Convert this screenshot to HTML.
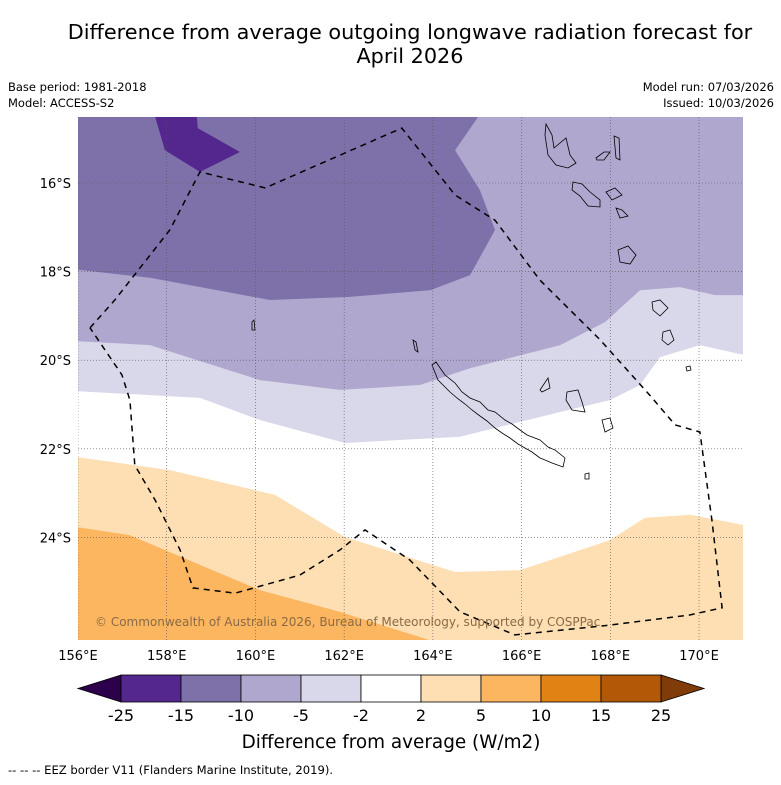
<!DOCTYPE html>
<html><head><meta charset="utf-8"><style>
body{margin:0;background:#fff;width:781px;height:781px;overflow:hidden;font-family:"DejaVu Sans","Liberation Sans",sans-serif}
</style></head><body>
<svg id="svg" width="781" height="781" xmlns="http://www.w3.org/2000/svg" font-family="DejaVu Sans, Liberation Sans, sans-serif">
<text x="410" y="39" text-anchor="middle" font-size="20.8">Difference from average outgoing longwave radiation forecast for</text>
<text x="410" y="63" text-anchor="middle" font-size="20.8">April 2026</text>
<text x="8" y="91" font-size="11.5">Base period: 1981-2018</text>
<text x="8" y="107" font-size="11.5">Model: ACCESS-S2</text>
<text x="774" y="91" font-size="11.5" text-anchor="end">Model run: 07/03/2026</text>
<text x="774" y="107" font-size="11.5" text-anchor="end">Issued: 10/03/2026</text>
<defs><clipPath id="mc"><rect x="78" y="117" width="665" height="523"/></clipPath></defs>
<g id="map" clip-path="url(#mc)"></g>
<g id="axes"></g>
<g id="cbar"></g>
<text x="391" y="748" text-anchor="middle" font-size="18.4">Difference from average (W/m2)</text>
<text x="8" y="774" font-size="11.6">--  --  -- EEZ border V11 (Flanders Marine Institute, 2019).</text>
</svg>
<script>
// axis domain
const lonTicks=[156,158,160,162,164,166,168,170];
const latTicks=[-16,-18,-20,-22,-24];
const cbBounds=[-25,-15,-10,-5,-2,2,5,10,15,25];
const cbColors=['#54278f','#7e71aa','#b0a7cf','#d8d8ea','#ffffff','#fddfb3','#fdb660','#e08214','#b35806'];
const cbLow='#2d004b', cbHigh='#7f3b08';
// contour regions (lon, lat)
const orangeLightLon=[155.5,156,158.07,160.44,162.02,164.5,165.96,167.99,168.78,169.8,171,171.5,171.5,155.5];
const orangeLightLat=[-22.19,-22.19,-22.48,-23.04,-23.99,-24.78,-24.74,-24.06,-23.56,-23.49,-23.72,-23.72,-27,-27];
const orangeLon=[155.5,156,157.17,158.75,160.1,161.9,163.93,164.2,155.5];
const orangeLat=[-23.77,-23.77,-23.95,-24.62,-25.19,-25.68,-26.32,-27,-27];
const lavLon=[155.5,156,158.75,160.1,162.02,164.61,166.87,167.99,168.67,169.12,170.02,171,171.5,171.5,155.5];
const lavLat=[-20.7,-20.7,-20.85,-21.35,-21.87,-21.73,-21.17,-20.9,-20.56,-19.93,-19.66,-19.88,-19.88,-14,-14];
const lpLon=[155.5,156,157.62,160.1,161.9,163.71,164.84,166.87,167.88,168.67,169.57,170.36,171,171.5,171.5,155.5];
const lpLat=[-19.57,-19.57,-19.66,-20.45,-20.67,-20.56,-20.18,-19.66,-19.14,-18.42,-18.35,-18.53,-18.53,-18.53,-14,-14];
const mpLon=[155.5,156,157.62,160.33,162.13,163.94,164.84,165.4,165.06,164.5,165.02,165.2,155.5];
const mpLat=[-17.96,-17.96,-18.14,-18.64,-18.57,-18.42,-18.08,-17.06,-16.16,-15.26,-14.51,-14,-14];
const dpLon=[157.74,157.96,158.75,159.65,158.7,158.68];
const dpLat=[-14.51,-15.26,-15.75,-15.3,-14.76,-14.51];
const eezLon=[156.27,156.83,158.07,158.75,160.22,163.3,164.5,165.4,166.41,167.77,168.89,169.46,170.02,170.29,170.52,169.8,167.99,165.85,164.61,163.48,162.47,161.91,161.0,159.54,158.59,158.3,157.74,157.28,157.17,156.99,156.27];
const eezLat=[-19.27,-18.64,-17.06,-15.75,-16.11,-14.76,-16.27,-16.84,-18.19,-19.54,-20.79,-21.46,-21.62,-23.61,-25.59,-25.75,-25.98,-26.2,-25.68,-24.51,-23.83,-24.28,-24.85,-25.26,-25.14,-24.28,-23.16,-22.37,-20.9,-20.33,-19.27];

const X=lon=>78+(lon-156)*44.36;
const Y=lat=>183+(-16-lat)*44.3;
const NS='http://www.w3.org/2000/svg';
function mk(tag,attrs,parent){const e=document.createElementNS(NS,tag);for(const k in attrs)e.setAttribute(k,attrs[k]);parent.appendChild(e);return e;}
function pts(lo,la){return lo.map((v,i)=>X(v).toFixed(1)+','+Y(la[i]).toFixed(1)).join(' ');}
const map=document.getElementById('map');
let r=mk('rect',{x:78,y:117,width:665,height:523,fill:'#fff'},map);


const layers=[[lpLon,lpLat,'#b0a7cf','contour-10-to-5'],[lavLon,lavLat,'#d8d8ea','contour-5-to-2'],[lpLon,lpLat,'#b0a7cf','contour-10-to-5-top'],[mpLon,mpLat,'#7e71aa','contour-15-to-10'],[dpLon,dpLat,'#54278f','contour-25-to-15'],[orangeLightLon,orangeLightLat,'#fddfb3','contour-2-to-5'],[orangeLon,orangeLat,'#fdb660','contour-5-to-10']];
const order=[1,2,3,4,5,6];
order.forEach(i=>{const L=layers[i];let p=mk('polygon',{points:pts(L[0],L[1]),fill:L[2]},map);

});
// coastlines (pixel geometry)
const coast=["M432,365 L436,362 L445,375 L455,383 L462,392 L470,398 L480,402 L488,410 L495,412 L505,420 L512,424 L520,430 L527,435 L540,440 L548,447 L555,450 L565,458 L563,467 L552,463 L545,460 L540,458 L532,452 L525,448 L518,444 L510,438 L502,433 L495,428 L487,421 L480,416 L472,410 L465,404 L457,398 L450,392 L443,385 L438,380 Z",
"M546,124 L552,135 L554,148 L566,138 L570,155 L576,163 L568,168 L556,165 L548,155 L545,135 Z","M573,182 L582,184 L590,192 L600,200 L600,207 L588,206 L580,196 L572,190 Z","M596,158 L604,152 L610,152 L604,160 L597,160 Z","M614,136 L619,138 L620,160 L616,158 Z","M606,192 L615,188 L622,195 L612,200 Z","M616,208 L622,210 L628,216 L620,218 Z","M618,250 L628,246 L636,255 L630,264 L620,262 Z","M652,302 L660,300 L668,308 L660,316 L653,310 Z","M663,332 L670,330 L674,340 L668,345 L662,340 Z","M540,390 L548,378 L550,388 L542,392 Z","M567,392 L578,390 L582,402 L585,412 L572,410 L566,400 Z","M602,420 L610,418 L613,428 L605,432 Z","M686,367 L690,366 L691,370 L687,371 Z","M585,474 L589,473 L589,479 L585,479 Z","M252,322 L254,320 L255,330 L252,330 Z","M413,340 L416,342 L418,352 L415,350 Z"];
coast.forEach((d,i)=>{let p=mk('path',{d:d,fill:'none',stroke:'#000','stroke-width':0.8},map);

});
// gridlines
lonTicks.forEach(l=>{let g=mk('line',{x1:X(l),x2:X(l),y1:117,y2:640,stroke:'#555','stroke-width':0.6,'stroke-dasharray':'1,2'},map);

});
latTicks.forEach(l=>{let g=mk('line',{x1:78,x2:743,y1:Y(l),y2:Y(l),stroke:'#555','stroke-width':0.6,'stroke-dasharray':'1,2'},map);

});
// EEZ
let ez=mk('polyline',{points:pts(eezLon,eezLat),fill:'none',stroke:'#000','stroke-width':1.5,'stroke-dasharray':'6,5'},map);


let cp=mk('text',{x:95,y:626,'font-size':12,fill:'#8a6a44'},map);cp.textContent='© Commonwealth of Australia 2026, Bureau of Meteorology, supported by COSPPac';


// axis labels
const ax=document.getElementById('axes');
lonTicks.forEach(l=>{let t=mk('text',{x:X(l),y:660,'font-size':13,'text-anchor':'middle'},ax);t.textContent=l+'°E';

});
latTicks.forEach(l=>{let t=mk('text',{x:71,y:Y(l)+5,'font-size':13,'text-anchor':'end'},ax);t.textContent=(-l)+'°S';

});
// colorbar
const cb=document.getElementById('cbar');
const cx=v=>121+cbBounds.indexOf(v)*60;
let lt=mk('polygon',{points:'78,688.5 121,675 121,702',fill:cbLow,stroke:'#000','stroke-width':0.8},cb);


let rt=mk('polygon',{points:'661,675 704,688.5 661,702',fill:cbHigh,stroke:'#000','stroke-width':0.8},cb);


cbColors.forEach((c,i)=>{let b=mk('rect',{x:cx(cbBounds[i]),y:675,width:cx(cbBounds[i+1])-cx(cbBounds[i]),height:27,fill:c,stroke:'#000','stroke-width':0.8},cb);

});
cbBounds.forEach(v=>{let t=mk('text',{x:cx(v),y:721,'font-size':16,'text-anchor':'middle'},cb);t.textContent=v;

});
</script>
</body></html>
